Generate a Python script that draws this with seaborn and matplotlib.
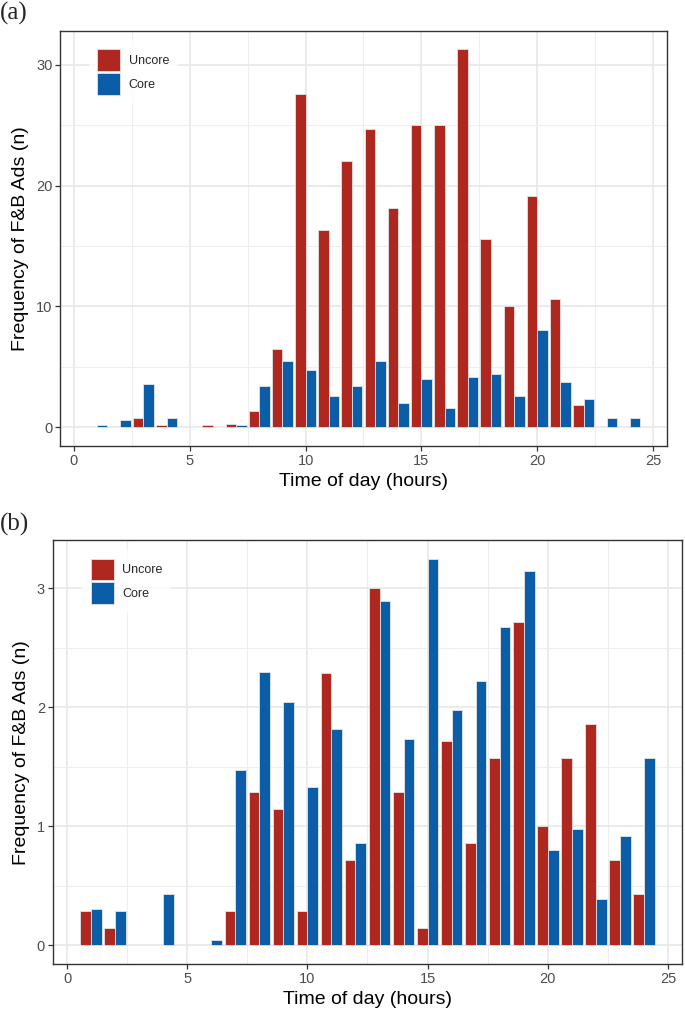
import numpy as np
import pandas as pd
import matplotlib
matplotlib.use("Agg")
import matplotlib.pyplot as plt
from matplotlib.patches import Patch
from matplotlib.ticker import MultipleLocator
import seaborn as sns

# ---------------- data ----------------
hours = list(range(1, 25))

# Panel (a)
uncore_a = [0, 0, 0.71, 0.14, 0, 0.14, 0.29, 1.29, 6.43, 27.57, 16.29, 22.0,
            24.71, 18.14, 25.0, 25.0, 31.29, 15.57, 10.0, 19.14, 10.57, 1.86, 0, 0]
core_a = [0.14, 0.57, 3.57, 0.71, 0, 0, 0.14, 3.43, 5.43, 4.71, 2.57, 3.43,
          5.43, 2.0, 4.0, 1.57, 4.14, 4.43, 2.57, 8.0, 3.71, 2.29, 0.71, 0.71]

# Panel (b)
uncore_b = [0.286, 0.143, 0, 0, 0, 0, 0.286, 1.286, 1.143, 0.286, 2.286, 0.714,
            3.0, 1.286, 0.143, 1.714, 0.857, 1.571, 2.714, 1.0, 1.571, 1.857, 0.714, 0.429]
core_b = [0.305, 0.285, 0, 0.428, 0, 0.045, 1.47, 2.30, 2.04, 1.327, 1.816, 0.854,
          2.897, 1.732, 3.244, 1.979, 2.222, 2.673, 3.146, 0.798, 0.977, 0.389, 0.918, 1.573]

series_names = ["Uncore", "Core"]
colors = {"Uncore": "#AE2820", "Core": "#0C5DA8"}

x_ticks = [0, 5, 10, 15, 20, 25]
x_label = "Time of day (hours)"
y_label = "Frequency of F&B Ads (n)"


def long_frame(unc, cor):
    rows = []
    for h, u, c in zip(hours, unc, cor):
        if u > 0:
            rows.append((h, u, "Uncore"))
        if c > 0:
            rows.append((h, c, "Core"))
    return pd.DataFrame(rows, columns=["hour", "freq", "type"])


sns.set_theme(style="white")
plt.rcParams["font.family"] = ["Liberation Sans", "DejaVu Sans"]

fig = plt.figure(figsize=(6.85, 10.17), dpi=100)
ax1 = fig.add_axes([0.08759, 0.56146, 0.88613, 0.40806])
ax2 = fig.add_axes([0.07693, 0.05182, 0.91912, 0.41721])


def draw(ax, unc, cor, ylim, ymaj, ymin):
    df = long_frame(unc, cor)
    sns.barplot(data=df, x="hour", y="freq", hue="type", hue_order=series_names,
                palette=colors, native_scale=True, width=0.9, dodge=True,
                saturation=1, errorbar=None, edgecolor="#E4E4E4", linewidth=0.6,
                ax=ax, legend=False)
    ax.set_xlim(-0.6, 25.6)
    ax.set_ylim(*ylim)
    ax.set_xticks(x_ticks)
    ax.xaxis.set_minor_locator(MultipleLocator(2.5))
    ax.yaxis.set_major_locator(MultipleLocator(ymaj))
    ax.yaxis.set_minor_locator(MultipleLocator(ymin))
    ax.set_axisbelow(True)
    ax.grid(which="major", color="#E6E6E6", lw=1.1)
    ax.grid(which="minor", color="#EEEEEE", lw=0.8)
    for s in ax.spines.values():
        s.set_color("#333333")
        s.set_linewidth(1.0)
        s.set_visible(True)
    ax.tick_params(which="major", direction="out", length=3.5, width=0.9,
                   color="#333333", labelcolor="#4D4D4D", labelsize=10.5, pad=2,
                   bottom=True, left=True)
    ax.tick_params(which="minor", length=0)
    ax.set_xlabel(x_label, fontsize=14, color="black", labelpad=4)
    ax.set_ylabel(y_label, fontsize=14, color="black", labelpad=5)
    handles = [Patch(facecolor=colors[n], edgecolor="#E4E4E4", linewidth=0.6, label=n)
               for n in series_names]
    leg = ax.legend(handles=handles, loc="upper left", bbox_to_anchor=(0.047, 0.977),
                    borderaxespad=0, frameon=True, fontsize=9, handlelength=1.85,
                    handleheight=2.3, labelspacing=0.15, handletextpad=0.65,
                    borderpad=0.7, fancybox=False)
    leg.get_frame().set_facecolor("white")
    leg.get_frame().set_edgecolor("white")
    leg.get_frame().set_linewidth(0)


draw(ax1, uncore_a, core_a, (-1.57, 32.8), 10, 5)
draw(ax2, uncore_b, core_b, (-0.162, 3.406), 1, 0.5)

fig.text(0.0, 0.9865, "(a)", family=["Liberation Serif", "DejaVu Serif"], fontsize=18,
         ha="left", va="center")
fig.text(0.0, 0.4845, "(b)", family=["Liberation Serif", "DejaVu Serif"], fontsize=18,
         ha="left", va="center")

fig.savefig("out.png", dpi=100)
